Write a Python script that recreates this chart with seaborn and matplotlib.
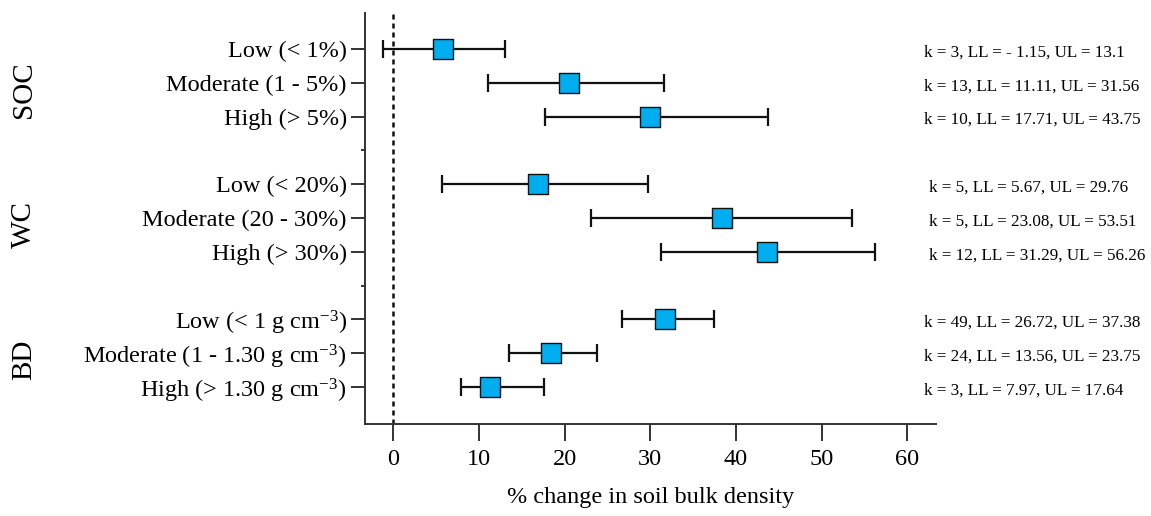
import numpy as np
import pandas as pd
import matplotlib
matplotlib.use("Agg")
import matplotlib.pyplot as plt
import matplotlib.transforms as mtransforms
import seaborn as sns

# Moderator classes and their effect sizes (% change in soil bulk density)
groups = ["SOC", "WC", "BD"]
labels = [
    "Low (< 1%)", "Moderate (1 - 5%)", "High (> 5%)",
    "Low (< 20%)", "Moderate (20 - 30%)", "High (> 30%)",
    r"Low (< 1 g cm$^{-3}$)", r"Moderate (1 - 1.30 g cm$^{-3}$)", r"High (> 1.30 g cm$^{-3}$)",
]
means = [5.8, 20.5, 30.0, 16.9, 38.4, 43.6, 31.7, 18.4, 11.3]
lower = [-1.15, 11.11, 17.71, 5.67, 23.08, 31.29, 26.72, 13.56, 7.97]
upper = [13.1, 31.56, 43.75, 29.76, 53.51, 56.26, 37.38, 23.75, 17.64]
k_counts = [3, 13, 10, 5, 5, 12, 49, 24, 3]
ll_text = ["- 1.15", "11.11", "17.71", "5.67", "23.08", "31.29", "26.72", "13.56", "7.97"]
ul_text = ["13.1", "31.56", "43.75", "29.76", "53.51", "56.26", "37.38", "23.75", "17.64"]

# Row layout: three blocks of three, separated by an empty row
rows = [0, 1, 2, 4, 5, 6, 8, 9, 10]
gap_rows = [3, 7]
group_rows = [1, 5, 9]

df = pd.DataFrame({"label": labels, "mean": means, "lower": lower,
                   "upper": upper, "row": rows, "k": k_counts})

sns.set_theme(style="ticks")
plt.rcParams["font.family"] = ["Liberation Serif", "DejaVu Serif"]
plt.rcParams["mathtext.fontset"] = "custom"
plt.rcParams["mathtext.rm"] = "Liberation Serif"
plt.rcParams["mathtext.it"] = "Liberation Serif:italic"
plt.rcParams["mathtext.bf"] = "Liberation Serif:bold"

fig = plt.figure(figsize=(11.51, 5.16), dpi=100)
ax = fig.add_axes([0.317, 0.178, 0.496, 0.797])

ink = "#111111"

# Zero reference line
ax.axvline(0, color=ink, lw=1.8, ls=(0, (2.0, 1.6)), zorder=1)

# Confidence intervals
ax.errorbar(df["mean"], df["row"],
            xerr=[df["mean"] - df["lower"], df["upper"] - df["mean"]],
            fmt="none", ecolor=ink, elinewidth=1.6, capsize=6.5,
            capthick=1.6, zorder=2)

# Mean effect markers
sns.scatterplot(data=df, x="mean", y="row", marker="s", s=220,
                color="#00aeef", edgecolor=ink, linewidth=1.0,
                zorder=3, ax=ax, legend=False)

ax.set_xlim(-3.3, 63.3)
ax.set_ylim(11.1, -1.07)
ax.set_xticks(np.arange(0, 61, 10))
ax.set_yticks(rows)
ax.set_yticklabels(labels)
ax.set_yticks(gap_rows, minor=True)
ax.tick_params(axis="y", which="major", length=10, width=1.4,
               colors="#333333", labelsize=17.5, pad=3)
ax.tick_params(axis="y", which="minor", length=3, width=1.4, colors="#333333")
ax.tick_params(axis="x", which="major", length=12, width=1.4,
               colors="#333333", labelsize=17.5, pad=6)
for lab in ax.get_xticklabels() + ax.get_yticklabels():
    lab.set_color("black")

for side in ["top", "right"]:
    ax.spines[side].set_visible(False)
for side in ["left", "bottom"]:
    ax.spines[side].set_linewidth(1.4)
    ax.spines[side].set_color("#333333")

ax.set_xlabel("% change in soil bulk density", fontsize=17.5, labelpad=12,
              color="black")
ax.set_ylabel("")

# Group names on the far left
trans_left = mtransforms.blended_transform_factory(fig.transFigure, ax.transData)
for name, r in zip(groups, group_rows):
    ax.text(0.021, r + 0.2, name, transform=trans_left, rotation=90,
            ha="center", va="center", fontsize=21, color="black")

# Study counts and confidence limits on the right
for i, r in enumerate(rows):
    xpos = 0.807 if 3 <= r <= 6 else 0.803
    ax.text(xpos, r + 0.1,
            f"k = {k_counts[i]}, LL = {ll_text[i]}, UL = {ul_text[i]}",
            transform=trans_left, ha="left", va="center",
            fontsize=12.3, color="black")

fig.savefig("out.png", dpi=100)
